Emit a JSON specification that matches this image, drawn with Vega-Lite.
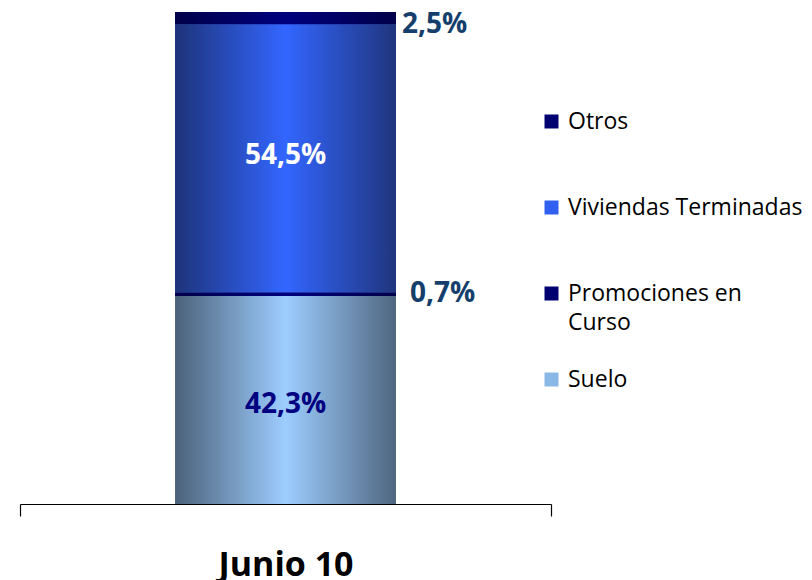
{
  "$schema": "https://vega.github.io/schema/vega-lite/v6.json",
  "width": 531,
  "height": 492,
  "padding": {"left": 20, "top": 12, "right": 261, "bottom": 76},
  "autosize": {"type": "none"},
  "background": "white",
  "config": {"view": {"stroke": null}, "font": "Open Sans"},
  "data": {
    "values": [
      {"period": "Junio 10", "cat": "Suelo", "value": 42.3, "label": "42,3%", "order": 1},
      {"period": "Junio 10", "cat": "Promociones en Curso", "value": 0.7, "label": "0,7%", "order": 2},
      {"period": "Junio 10", "cat": "Viviendas Terminadas", "value": 54.5, "label": "54,5%", "order": 3},
      {"period": "Junio 10", "cat": "Otros", "value": 2.5, "label": "2,5%", "order": 4}
    ]
  },
  "transform": [
    {"stack": "value", "groupby": ["period"], "sort": [{"field": "order"}], "as": ["y0", "y1"]}
  ],
  "encoding": {
    "x": {
      "field": "period",
      "type": "nominal",
      "scale": {"paddingInner": 0, "paddingOuter": 0},
      "axis": {
        "title": null,
        "labelAngle": 0,
        "labelFontSize": 34,
        "labelFontWeight": "bold",
        "labelFont": "Open Sans",
        "labelColor": "black",
        "labelBaseline": "alphabetic",
        "labelPadding": 59,
        "domainColor": "black",
        "domainWidth": 1.2,
        "tickColor": "black",
        "tickWidth": 1.2,
        "tickSize": 12,
        "tickBand": "extent",
        "grid": false
      }
    }
  },
  "layer": [
    {
      "mark": {"type": "bar", "width": {"band": 0.416}},
      "encoding": {
        "y": {"field": "y0", "type": "quantitative", "scale": {"domain": [0, 100], "nice": false}, "axis": null},
        "y2": {"field": "y1"},
        "color": {
          "field": "cat",
          "type": "nominal",
          "scale": {
            "domain": ["Otros", "Viviendas Terminadas", "Promociones en Curso", "Suelo"],
            "range": ["#000070", "#3060f0", "#000070", "#8ab8e6"]
          },
          "legend": {
            "orient": "none",
            "legendX": 520,
            "legendY": 98,
            "title": null,
            "padding": 0,
            "symbolType": "square",
            "symbolSize": 196,
            "symbolStrokeWidth": 0,
            "labelFontSize": 23,
            "labelFont": "Open Sans",
            "labelColor": "black",
            "labelOffset": 5,
            "labelLimit": 400,
            "rowPadding": 62,
            "labelExpr": "datum.label == 'Promociones en Curso' ? 'Promociones en' : datum.label"
          }
        }
      }
    },
    {
      "transform": [{"filter": "datum.cat == 'Suelo'"}],
      "mark": {
        "type": "bar",
        "width": {"band": 0.416},
        "color": {
          "gradient": "linear", "x1": 0, "x2": 1, "y1": 0, "y2": 0,
          "stops": [
            {"offset": 0, "color": "#4b617a"},
            {"offset": 0.5, "color": "#9dcdff"},
            {"offset": 1, "color": "#4f6680"}
          ]
        }
      },
      "encoding": {
        "y": {"field": "y0", "type": "quantitative"},
        "y2": {"field": "y1"}
      }
    },
    {
      "transform": [{"filter": "datum.cat == 'Viviendas Terminadas'"}],
      "mark": {
        "type": "bar",
        "width": {"band": 0.416},
        "color": {
          "gradient": "linear", "x1": 0, "x2": 1, "y1": 0, "y2": 0,
          "stops": [
            {"offset": 0, "color": "#1d337a"},
            {"offset": 0.5, "color": "#3366ff"},
            {"offset": 1, "color": "#1f357d"}
          ]
        }
      },
      "encoding": {
        "y": {"field": "y0", "type": "quantitative"},
        "y2": {"field": "y1"}
      }
    },
    {
      "transform": [{"filter": "datum.cat == 'Otros'"}],
      "mark": {
        "type": "bar",
        "width": {"band": 0.416},
        "color": {
          "gradient": "linear", "x1": 0, "x2": 1, "y1": 0, "y2": 0,
          "stops": [
            {"offset": 0, "color": "#00004a"},
            {"offset": 0.5, "color": "#00007e"},
            {"offset": 1, "color": "#00004a"}
          ]
        }
      },
      "encoding": {
        "y": {"field": "y0", "type": "quantitative"},
        "y2": {"field": "y1"}
      }
    },
    {
      "transform": [{"filter": "datum.cat == 'Promociones en Curso'"}],
      "mark": {
        "type": "bar",
        "width": {"band": 0.416},
        "color": {
          "gradient": "linear", "x1": 0, "x2": 1, "y1": 0, "y2": 0,
          "stops": [
            {"offset": 0, "color": "#00004a"},
            {"offset": 0.5, "color": "#00007e"},
            {"offset": 1, "color": "#00004a"}
          ]
        }
      },
      "encoding": {
        "y": {"field": "y0", "type": "quantitative"},
        "y2": {"field": "y1"},
        "stroke": {
          "field": "label",
          "type": "nominal",
          "scale": {"range": ["transparent"]},
          "legend": {
            "orient": "none",
            "legendX": 520,
            "legendY": 299,
            "title": null,
            "padding": 0,
            "symbolType": "square",
            "symbolSize": 196,
            "symbolOpacity": 0,
            "symbolStrokeWidth": 0,
            "labelFontSize": 23,
            "labelFont": "Open Sans",
            "labelColor": "black",
            "labelOffset": 5,
            "labelLimit": 400,
            "labelExpr": "'Curso'"
          }
        }
      }
    },
    {
      "transform": [
        {"filter": "datum.cat == 'Viviendas Terminadas'"},
        {"fold": ["y0", "y1"], "as": ["edge", "pos"]},
        {"aggregate": [{"op": "mean", "field": "pos", "as": "mid"}], "groupby": ["period", "cat", "label"]}
      ],
      "mark": {"type": "text", "fontSize": 28, "fontWeight": "bold", "font": "Open Sans", "color": "white", "dy": -2},
      "encoding": {
        "y": {"field": "mid", "type": "quantitative"},
        "text": {"field": "label"}
      }
    },
    {
      "transform": [
        {"filter": "datum.cat == 'Suelo'"},
        {"fold": ["y0", "y1"], "as": ["edge", "pos"]},
        {"aggregate": [{"op": "mean", "field": "pos", "as": "mid"}], "groupby": ["period", "cat", "label"]}
      ],
      "mark": {"type": "text", "fontSize": 28, "fontWeight": "bold", "font": "Open Sans", "color": "#000080", "dy": 5},
      "encoding": {
        "y": {"field": "mid", "type": "quantitative"},
        "text": {"field": "label"}
      }
    },
    {
      "transform": [
        {"filter": "datum.cat == 'Otros'"},
        {"fold": ["y0", "y1"], "as": ["edge", "pos"]},
        {"aggregate": [{"op": "mean", "field": "pos", "as": "mid"}], "groupby": ["period", "cat", "label"]}
      ],
      "mark": {"type": "text", "fontSize": 28, "fontWeight": "bold", "font": "Open Sans", "color": "#143e6b", "align": "left", "dx": 6, "dy": 7},
      "encoding": {
        "x": {"field": "period", "type": "nominal", "bandPosition": 0.708},
        "y": {"field": "mid", "type": "quantitative"},
        "text": {"field": "label"}
      }
    },
    {
      "transform": [
        {"filter": "datum.cat == 'Promociones en Curso'"},
        {"fold": ["y0", "y1"], "as": ["edge", "pos"]},
        {"aggregate": [{"op": "mean", "field": "pos", "as": "mid"}], "groupby": ["period", "cat", "label"]}
      ],
      "mark": {"type": "text", "fontSize": 28, "fontWeight": "bold", "font": "Open Sans", "color": "#143e6b", "align": "left", "dx": 14, "dy": 0},
      "encoding": {
        "x": {"field": "period", "type": "nominal", "bandPosition": 0.708},
        "y": {"field": "mid", "type": "quantitative"},
        "text": {"field": "label"}
      }
    }
  ]
}
